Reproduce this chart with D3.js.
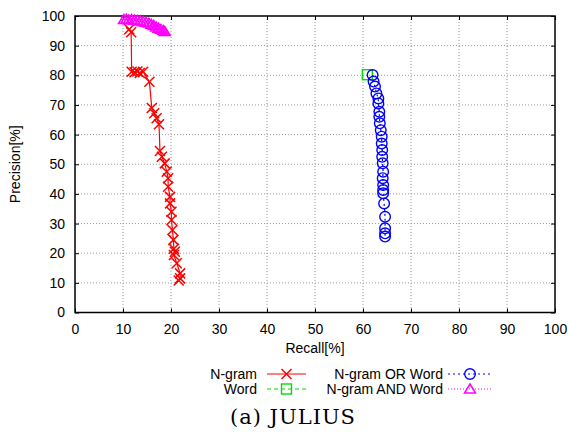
<!DOCTYPE html>
<html>
<head>
<meta charset="utf-8">
<script src="https://cdn.jsdelivr.net/npm/d3@7"></script>
<style>
  body { margin: 0; background: #fff; }
  text { font-family: "Liberation Sans", Arial, sans-serif; }
</style>
</head>
<body>
<svg id="chart" width="569" height="439"></svg>
<script>
"use strict";

// data: [recall, precision]
var ngram = [
    [11.3, 95.5], [11.7, 94.5], [11.8, 81.2], [12.4, 81.0], [13.0, 81.3],
    [13.5, 80.8], [14.2, 81.2], [15.5, 77.8], [16.0, 69.0], [16.5, 67.2],
    [17.0, 65.5], [17.5, 63.5], [17.7, 54.5], [18.1, 52.5], [18.7, 50.3],
    [19.1, 47.5], [19.4, 45.3], [19.4, 42.4], [19.8, 39.0], [19.8, 36.8],
    [20.1, 34.0], [20.1, 31.2], [20.3, 27.8], [20.5, 24.5], [20.6, 21.5],
    [20.8, 20.5], [20.6, 19.4], [21.2, 16.6], [21.9, 13.2], [21.9, 11.5],
    [21.6, 10.8]
];
var word = [[60.9, 80.2]];
var ngramOrWord = [
    [62.0, 80.1], [62.2, 77.9], [62.5, 76.2], [62.8, 73.9], [63.2, 72.2],
    [63.2, 70.5], [63.4, 67.7], [63.4, 66.0], [63.5, 63.8], [63.7, 61.5],
    [63.9, 59.3], [63.9, 57.0], [64.0, 54.8], [64.0, 52.5], [64.1, 50.3],
    [64.2, 47.5], [64.1, 45.3], [64.2, 43.0], [64.2, 41.3], [64.2, 40.2],
    [64.4, 36.8], [64.6, 32.3], [64.6, 28.4], [64.6, 26.7], [64.6, 25.6]
];
var ngramAndWord = [
    [10.2, 98.8], [10.7, 98.9], [11.2, 98.7], [11.8, 98.8], [12.4, 98.6],
    [13.0, 98.5], [13.6, 98.3], [14.2, 98.1], [14.8, 97.9], [15.4, 97.6],
    [15.9, 97.2], [16.4, 96.8], [16.9, 96.3], [17.4, 95.9], [17.9, 95.5],
    [18.4, 95.1], [18.7, 94.8]
];
var xTicks = [0, 10, 20, 30, 40, 50, 60, 70, 80, 90, 100];
var yTicks = [0, 10, 20, 30, 40, 50, 60, 70, 80, 90, 100];

var svg = d3.select("#chart");
var pLeft = 75, pRight = 555, pTop = 16, pBottom = 312.5;

var x = d3.scaleLinear().domain([0, 100]).range([pLeft, pRight]);
var y = d3.scaleLinear().domain([0, 100]).range([pBottom, pTop]);

// grid
var grid = svg.append("g");
grid.selectAll(".gx").data(xTicks.slice(1, -1)).enter().append("line")
    .attr("x1", d => x(d)).attr("x2", d => x(d))
    .attr("y1", pTop).attr("y2", pBottom)
    .style("stroke", "#999").style("stroke-dasharray", "1,2");
grid.selectAll(".gy").data(yTicks.slice(1, -1)).enter().append("line")
    .attr("x1", pLeft).attr("x2", pRight)
    .attr("y1", d => y(d)).attr("y2", d => y(d))
    .style("stroke", "#999").style("stroke-dasharray", "1,2");

// axes, ticks pointing inward, mirrored
function styleAxis(g) {
    g.select(".domain").remove();
    g.selectAll("line").style("stroke", "#000");
    g.selectAll("text").style("font-size", "14px").style("fill", "#000")
        .style("font-family", "'Liberation Sans', Arial, sans-serif");
}
svg.append("g").attr("transform", "translate(0," + pBottom + ")")
    .call(d3.axisBottom(x).tickValues(xTicks).tickSize(-4).tickPadding(12))
    .call(styleAxis);
svg.append("g").attr("transform", "translate(" + pLeft + ",0)")
    .call(d3.axisLeft(y).tickValues(yTicks).tickSize(-4).tickPadding(10))
    .call(styleAxis);
svg.append("g").attr("transform", "translate(0," + pTop + ")")
    .call(d3.axisTop(x).tickValues(xTicks).tickSize(-4).tickFormat(""))
    .call(styleAxis);
svg.append("g").attr("transform", "translate(" + pRight + ",0)")
    .call(d3.axisRight(y).tickValues(yTicks).tickSize(-4).tickFormat(""))
    .call(styleAxis);

svg.append("rect")
    .attr("x", pLeft).attr("y", pTop)
    .attr("width", pRight - pLeft).attr("height", pBottom - pTop)
    .style("fill", "none").style("stroke", "#000").style("stroke-width", 1.5);

// axis titles
svg.append("text").attr("x", 315).attr("y", 353)
    .attr("text-anchor", "middle").style("font-size", "14px").text("Recall[%]");
svg.append("text")
    .attr("transform", "translate(20," + ((pTop + pBottom) / 2) + ") rotate(-90)")
    .attr("text-anchor", "middle").style("font-size", "14px").text("Precision[%]");

// markers
function cross(g, cx, cy, color) {
    var s = 5;
    g.append("path")
        .attr("d", "M" + (cx - s) + "," + (cy - s) + "L" + (cx + s) + "," + (cy + s) +
                   "M" + (cx - s) + "," + (cy + s) + "L" + (cx + s) + "," + (cy - s))
        .style("stroke", color).style("stroke-width", 1.5).style("fill", "none");
}
function square(g, cx, cy, color) {
    g.append("rect").attr("x", cx - 5).attr("y", cy - 5).attr("width", 10).attr("height", 10)
        .style("stroke", color).style("stroke-width", 1.4).style("fill", "none");
}
function circle(g, cx, cy, color) {
    g.append("circle").attr("cx", cx).attr("cy", cy).attr("r", 5.3)
        .style("stroke", color).style("stroke-width", 1.4).style("fill", "none");
}
function triangle(g, cx, cy, color) {
    g.append("path")
        .attr("d", "M" + cx + "," + (cy - 5) + "L" + (cx + 5.5) + "," + (cy + 4) +
                   "L" + (cx - 5.5) + "," + (cy + 4) + "Z")
        .style("stroke", color).style("stroke-width", 1.5).style("fill", "none");
}

var series = [
    { data: ngram, color: "#ff0000", dash: null, marker: cross },
    { data: word, color: "#00dd00", dash: "4,3", marker: square },
    { data: ngramOrWord, color: "#0000ff", dash: "2,3", marker: circle },
    { data: ngramAndWord, color: "#ff00ff", dash: "1,2", marker: triangle }
];

var line = d3.line().x(d => x(d[0])).y(d => y(d[1]));
var plot = svg.append("g");
series.forEach(function(s) {
    plot.append("path").datum(s.data).attr("d", line)
        .style("fill", "none").style("stroke", s.color).style("stroke-width", 1.2)
        .style("stroke-dasharray", s.dash);
    var mg = plot.append("g");
    s.data.forEach(function(d) { s.marker(mg, x(d[0]), y(d[1]), s.color); });
});

// legend
var legendItems = [
    { label: "N-gram", s: series[0], tx: 257, lx1: 267, lx2: 306, ty: 374 },
    { label: "Word", s: series[1], tx: 257, lx1: 267, lx2: 306, ty: 389 },
    { label: "N-gram OR Word", s: series[2], tx: 443, lx1: 448, lx2: 492, ty: 374 },
    { label: "N-gram AND Word", s: series[3], tx: 443, lx1: 448, lx2: 492, ty: 389 }
];
var lg = svg.append("g");
legendItems.forEach(function(it) {
    lg.append("text").attr("x", it.tx).attr("y", it.ty + 5)
        .attr("text-anchor", "end").style("font-size", "14px").text(it.label);
    lg.append("line").attr("x1", it.lx1).attr("x2", it.lx2)
        .attr("y1", it.ty).attr("y2", it.ty)
        .style("stroke", it.s.color).style("stroke-width", 1.2)
        .style("stroke-dasharray", it.s.dash);
    it.s.marker(lg, (it.lx1 + it.lx2) / 2, it.ty, it.s.color);
});

// caption
svg.append("text").attr("x", 293).attr("y", 424)
    .attr("text-anchor", "middle")
    .style("font-family", "'DejaVu Serif', 'Liberation Serif', serif")
    .style("font-size", "21px").style("letter-spacing", "1px").text("(a) JULIUS");
</script>
</body>
</html>
